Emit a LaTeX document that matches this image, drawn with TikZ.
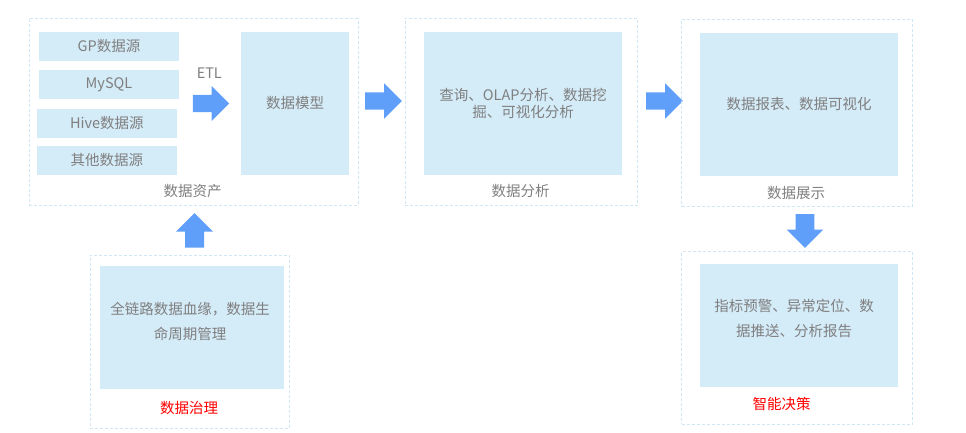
\documentclass[tikz,border=0pt]{standalone}
\usepackage{fontspec}
\setmainfont{Noto Sans CJK SC}
\usetikzlibrary{shapes.arrows}
\definecolor{boxblue}{HTML}{D4EBF8}
\definecolor{dashblue}{HTML}{CFE6F5}
\definecolor{arrowblue}{HTML}{5F9FF9}
\definecolor{txtgray}{HTML}{7F7F7F}
\definecolor{capred}{HTML}{FF0000}

\begin{document}
\begin{tikzpicture}[x=1pt,y=1pt,
        outerbox/.style={draw=dashblue,line width=0.8pt,dash pattern=on 3pt off 2pt,inner sep=0pt},
        innerbox/.style={fill=boxblue,draw=none,inner sep=0pt},
        txt/.style={text=txtgray,font=\fontsize{14.5}{25}\selectfont,inner sep=0pt,align=center},
        redtxt/.style={txt,text=capred},
        bigarrow/.style={single arrow,fill=arrowblue,draw=none,inner xsep=0pt,inner ysep=8.5pt,
            single arrow head extend=9pt,single arrow head indent=0pt,anchor=tail}]
        \useasboundingbox (0,0) rectangle (966,-433);
        % data assets
        \node[outerbox,minimum width=328.7pt,minimum height=186.7pt] (asset) at (193.7,-111.7) {};
        \node[innerbox,txt,minimum width=140pt,minimum height=28.7pt] (gp) at (109,-46.3) {GP数据源};
        \node[innerbox,txt,minimum width=140pt,minimum height=29pt] (mysql) at (109,-84.5) {MySQL};
        \node[innerbox,txt,minimum width=140.3pt,minimum height=28.7pt] (hive) at (106.8,-123.3) {Hive数据源};
        \node[innerbox,txt,minimum width=140.3pt,minimum height=29pt] (other) at (106.8,-160.2) {其他数据源};
        \node[innerbox,txt,minimum width=108pt,minimum height=142.7pt] (model) at (295,-103.3) {数据模型};
        \node[txt] (etllabel) at (209.3,-73.3) {ETL};
        \node[bigarrow,minimum height=36.3pt] (etl) at (192.7,-103.5) {};
        \node[txt] (assetlabel) at (192.7,-191) {数据资产};
        % data analysis
        \node[bigarrow,minimum height=36.7pt] (toanalysis) at (365,-101) {};
        \node[outerbox,minimum width=232.7pt,minimum height=186.7pt] (analysis) at (521.3,-111.7) {};
        \node[innerbox,txt,minimum width=198pt,minimum height=142.7pt,
            font=\fontsize{14.5}{16.7}\selectfont] (query) at (523,-103.3) {查询、OLAP分析、数据挖\\掘、可视化分析};
        \node[txt] (analysislabel) at (520.7,-191) {数据分析};
        % data display
        \node[bigarrow,minimum height=36.7pt] (todisplay) at (646,-101) {};
        \node[outerbox,minimum width=230.6pt,minimum height=187.4pt] (display) at (797,-113) {};
        \node[innerbox,txt,minimum width=198pt,minimum height=143pt] (report) at (799,-104.2) {数据报表、数据可视化};
        \node[txt] (displaylabel) at (796,-192.7) {数据展示};
        % decision
        \node[bigarrow,minimum height=33.7pt,inner ysep=9.2pt,rotate=-90] (todecision) at (805,-214) {};
        \node[outerbox,minimum width=230.6pt,minimum height=172.6pt] (decision) at (797,-338) {};
        \node[innerbox,minimum width=198pt,minimum height=122.7pt] (alert) at (799,-325.3) {};
        \node[txt] (alerttxt) at (794,-318.9) {指标预警、异常定位、数\\据推送、分析报告};
        \node[redtxt] (decisionlabel) at (781.7,-404.3) {智能决策};
        % governance
        \node[bigarrow,minimum height=34.4pt,inner ysep=9.3pt,rotate=90] (togovern) at (194.5,-247.7) {};
        \node[outerbox,minimum width=199.3pt,minimum height=173.3pt] (govern) at (189.7,-341.7) {};
        \node[innerbox,minimum width=184pt,minimum height=122.7pt] (lineage) at (192,-327.3) {};
        \node[txt] (lineagetxt) at (190,-321.8) {全链路数据血缘，数据生\\命周期管理};
        \node[redtxt] (governlabel) at (189,-407.7) {数据治理};
\end{tikzpicture}
\end{document}
